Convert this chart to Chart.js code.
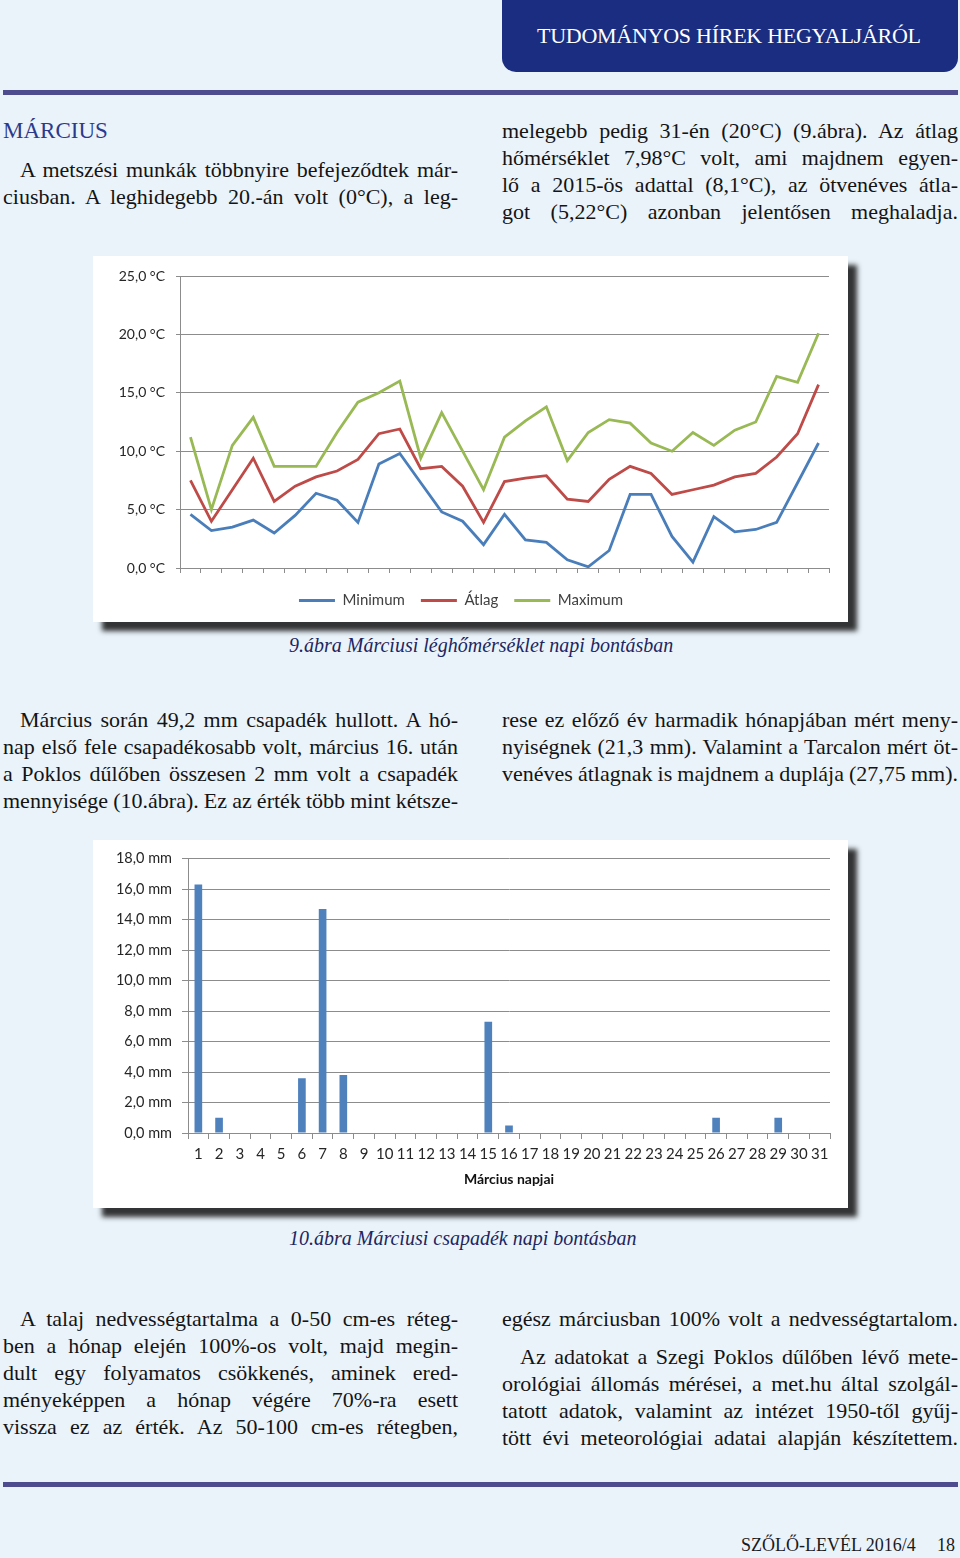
<!DOCTYPE html>
<html lang="hu">
<head>
<meta charset="utf-8">
<script src="https://cdn.jsdelivr.net/npm/chart.js@4.4.1/dist/chart.umd.min.js"></script>
<style>
  html, body { margin: 0; padding: 0; }
  body { width: 960px; height: 1558px; background: #eaf3fa; position: relative; overflow: hidden; }
  .header { position: absolute; left: 502px; top: 0; width: 456px; height: 72px; background: #1a2d80;
            border-radius: 0 0 14px 14px; }
  .header span { position: absolute; left: 35px; top: 23px; color: #fff; font: 22px "Liberation Serif", serif;
                 white-space: pre; }
  .rule { position: absolute; left: 3px; width: 955px; height: 5px; background: #4e4b8e; }
  .ln { position: absolute; white-space: pre; font: 22px/27px "Liberation Serif", serif; color: #141414; }
  .h2 { position: absolute; left: 3px; top: 118px; font: 23px "Liberation Serif", serif; color: #2d3a8c; }
  .cap { position: absolute; white-space: pre; font: italic 20px "Liberation Serif", serif; color: #1d2660; }
  .panel { position: absolute; left: 93px; width: 755px; background: #fff;
           box-shadow: 9px 9px 5px rgba(25, 25, 25, 0.88); }
  .panel canvas { display: block; }
  .foot { position: absolute; top: 1535px; font: 18px "Liberation Serif", serif; color: #1a1a1a; white-space: pre; }
</style>
</head>
<body>
<div class="header"><span id="hdr" data-w="384">TUDOMÁNYOS HÍREK HEGYALJÁRÓL</span></div>
<div class="rule" style="top:90px"></div>

<div class="h2">MÁRCIUS</div>
<div class="ln" style="left:20px;top:156px" data-w="438">A metszési munkák többnyire befejeződtek már-</div>
<div class="ln" style="left:3px;top:183px" data-w="455">ciusban. A leghidegebb 20.-án volt (0°C), a leg-</div>

<div class="ln" style="left:502px;top:117px" data-w="456">melegebb pedig 31-én (20°C) (9.ábra). Az átlag</div>
<div class="ln" style="left:502px;top:144px" data-w="456">hőmérséklet 7,98°C volt, ami majdnem egyen-</div>
<div class="ln" style="left:502px;top:171px" data-w="456">lő a 2015-ös adattal (8,1°C), az ötvenéves átla-</div>
<div class="ln" style="left:502px;top:198px" data-w="456">got (5,22°C) azonban jelentősen meghaladja.</div>

<div class="panel" style="top:256px;height:366px"><canvas id="tempChart" width="755" height="366"></canvas></div>
<div class="cap" style="left:289px;top:634px">9.ábra Márciusi léghőmérséklet napi bontásban</div>

<div class="ln" style="left:20px;top:706px" data-w="438">Március során 49,2 mm csapadék hullott. A hó-</div>
<div class="ln" style="left:3px;top:733px" data-w="455">nap első fele csapadékosabb volt, március 16. után</div>
<div class="ln" style="left:3px;top:760px" data-w="455">a Poklos dűlőben összesen 2 mm volt a csapadék</div>
<div class="ln" style="left:3px;top:787px" data-w="455">mennyisége (10.ábra). Ez az érték több mint kétsze-</div>

<div class="ln" style="left:502px;top:706px" data-w="456">rese ez előző év harmadik hónapjában mért meny-</div>
<div class="ln" style="left:502px;top:733px" data-w="456">nyiségnek (21,3 mm). Valamint a Tarcalon mért öt-</div>
<div class="ln" style="left:502px;top:760px" data-w="456">venéves átlagnak is majdnem a duplája (27,75 mm).</div>

<div class="panel" style="top:840px;height:368px"><canvas id="rainChart" width="755" height="368"></canvas></div>
<div class="cap" style="left:289px;top:1227px">10.ábra Márciusi csapadék napi bontásban</div>

<div class="ln" style="left:20px;top:1305px" data-w="438">A talaj nedvességtartalma a 0-50 cm-es réteg-</div>
<div class="ln" style="left:3px;top:1332px" data-w="455">ben a hónap elején 100%-os volt, majd megin-</div>
<div class="ln" style="left:3px;top:1359px" data-w="455">dult egy folyamatos csökkenés, aminek ered-</div>
<div class="ln" style="left:3px;top:1386px" data-w="455">ményeképpen a hónap végére 70%-ra esett</div>
<div class="ln" style="left:3px;top:1413px" data-w="455">vissza ez az érték. Az 50-100 cm-es rétegben,</div>

<div class="ln" style="left:502px;top:1305px" data-w="456">egész márciusban 100% volt a nedvességtartalom.</div>
<div class="ln" style="left:520px;top:1343px" data-w="438">Az adatokat a Szegi Poklos dűlőben lévő mete-</div>
<div class="ln" style="left:502px;top:1370px" data-w="456">orológiai állomás mérései, a met.hu által szolgál-</div>
<div class="ln" style="left:502px;top:1397px" data-w="456">tatott adatok, valamint az intézet 1950-től gyűj-</div>
<div class="ln" style="left:502px;top:1424px" data-w="456">tött évi meteorológiai adatai alapján készítettem.</div>

<div class="rule" style="top:1482px"></div>
<div class="foot" style="left:741px">SZŐLŐ-LEVÉL 2016/4</div>
<div class="foot" style="left:937px">18</div>

<script>
// Days of March
const days = ['1','2','3','4','5','6','7','8','9','10','11','12','13','14','15','16',
              '17','18','19','20','21','22','23','24','25','26','27','28','29','30','31'];

// Daily temperatures (°C)
const minTemp = [4.6, 3.2, 3.5, 4.1, 3.0, 4.5, 6.4, 5.8, 3.9, 8.9, 9.8, 7.3, 4.8, 4.0, 2.0, 4.6,
                 2.4, 2.2, 0.7, 0.1, 1.5, 6.3, 6.3, 2.7, 0.5, 4.4, 3.1, 3.3, 3.9, 7.3, 10.7];
const avgTemp = [7.5, 4.0, 6.7, 9.4, 5.7, 7.0, 7.8, 8.3, 9.3, 11.5, 11.9, 8.5, 8.7, 7.0, 3.9, 7.4,
                 7.7, 7.9, 5.9, 5.7, 7.6, 8.7, 8.1, 6.3, 6.7, 7.1, 7.8, 8.1, 9.5, 11.5, 15.7];
const maxTemp = [11.2, 5.0, 10.5, 12.9, 8.7, 8.7, 8.7, 11.6, 14.2, 15.0, 16.0, 9.4, 13.3, 10.0, 6.7, 11.2,
                 12.6, 13.8, 9.2, 11.6, 12.7, 12.4, 10.7, 10.0, 11.6, 10.5, 11.8, 12.5, 16.4, 15.9, 20.1];
const tempTickLabels = ['0,0 °C', '5,0 °C', '10,0 °C', '15,0 °C', '20,0 °C', '25,0 °C'];

// Daily precipitation (mm)
const rain = [16.3, 1.0, 0, 0, 0, 3.6, 14.7, 3.8, 0, 0, 0, 0, 0, 0, 7.3, 0.5,
              0, 0, 0, 0, 0, 0, 0, 0, 0, 1.0, 0, 0, 1.0, 0, 0];
const rainTickLabels = ['0,0 mm', '2,0 mm', '4,0 mm', '6,0 mm', '8,0 mm', '10,0 mm',
                        '12,0 mm', '14,0 mm', '16,0 mm', '18,0 mm'];

const gridColor = '#8c8c8c';
const textColor = '#262626';
const chartFont = 'Lato, "Open Sans", sans-serif';

// Stretch text lines to the column width like the printed justification
function justifyLines() {
    document.querySelectorAll('.ln').forEach(el => {
        const target = +el.dataset.w;
        const spaces = (el.textContent.match(/ /g) || []).length;
        const natural = el.getBoundingClientRect().width;
        if (spaces) el.style.wordSpacing = ((target - natural) / spaces) + 'px';
    });
    const hdr = document.getElementById('hdr');
    const n = hdr.textContent.length;
    hdr.style.letterSpacing = ((+hdr.dataset.w - hdr.getBoundingClientRect().width) / (n - 1)) + 'px';
}

// Temperature line chart
function createTempChart() {
    const ctx = document.getElementById('tempChart').getContext('2d');
    const line = (label, data, color) => ({
        label: label,
        data: data,
        borderColor: color,
        backgroundColor: color,
        borderWidth: 2.8,
        pointRadius: 0,
        tension: 0
    });

    new Chart(ctx, {
        type: 'line',
        data: {
            labels: days,
            datasets: [
                line('Minimum', minTemp, '#4a7ebb'),
                line('Átlag', avgTemp, '#be4b48'),
                line('Maximum', maxTemp, '#98b954')
            ]
        },
        options: {
            responsive: false,
            animation: false,
            layout: { padding: { top: 20, right: 19, bottom: 4, left: 0 } },
            plugins: {
                tooltip: { enabled: false },
                legend: {
                    position: 'bottom',
                    labels: {
                        usePointStyle: true,
                        pointStyle: 'line',
                        pointStyleWidth: 36,
                        padding: 16,
                        color: '#404040',
                        font: { family: chartFont, size: 15 }
                    }
                }
            },
            scales: {
                x: {
                    offset: true,
                    grid: { offset: true, drawOnChartArea: false, tickLength: 5, color: gridColor },
                    border: { color: gridColor },
                    ticks: { color: textColor, padding: 6, maxRotation: 0, autoSkip: false,
                             font: { family: chartFont, size: 14 } },
                    afterFit: scale => { scale.height = 9; }
                },
                y: {
                    min: 0,
                    max: 25,
                    ticks: {
                        stepSize: 5,
                        padding: 11,
                        color: textColor,
                        font: { family: chartFont, size: 14 },
                        callback: (value, index) => tempTickLabels[index]
                    },
                    grid: { color: gridColor, tickLength: 4 },
                    border: { color: gridColor },
                    afterFit: scale => { scale.width = 87; }
                }
            }
        }
    });
}

// Precipitation bar chart
function createRainChart() {
    const ctx = document.getElementById('rainChart').getContext('2d');

    new Chart(ctx, {
        type: 'bar',
        data: {
            labels: days,
            datasets: [{
                label: 'Csapadék',
                data: rain,
                backgroundColor: '#4f81bd',
                barPercentage: 0.37,
                categoryPercentage: 1
            }]
        },
        options: {
            responsive: false,
            animation: false,
            layout: { padding: { top: 17, right: 18, bottom: 16, left: 0 } },
            plugins: {
                legend: { display: false },
                tooltip: { enabled: false }
            },
            scales: {
                x: {
                    grid: { drawOnChartArea: false, tickLength: 6, color: gridColor },
                    border: { color: gridColor },
                    ticks: { color: textColor, padding: 6, maxRotation: 0, autoSkip: false,
                             font: { family: chartFont, size: 15 } },
                    title: {
                        display: true,
                        text: 'Március napjai',
                        color: '#111',
                        padding: { top: 8, bottom: 4 },
                        font: { family: chartFont, size: 14, weight: 'bold' }
                    },
                    afterFit: scale => { scale.height = 59; }
                },
                y: {
                    min: 0,
                    max: 18,
                    ticks: {
                        stepSize: 2,
                        padding: 10,
                        color: textColor,
                        font: { family: chartFont, size: 14.5 },
                        callback: (value, index) => rainTickLabels[index]
                    },
                    grid: { color: gridColor, tickLength: 6 },
                    border: { color: gridColor },
                    afterFit: scale => { scale.width = 95; }
                }
            }
        }
    });
}

justifyLines();
createTempChart();
createRainChart();
</script>
</body>
</html>
